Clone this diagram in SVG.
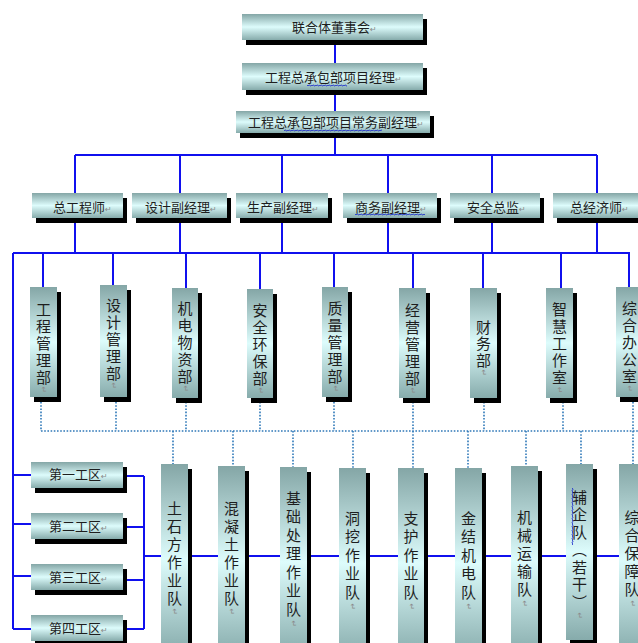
<svg xmlns="http://www.w3.org/2000/svg" width="638" height="643" viewBox="0 0 638 643">
<style>
.bg{fill:#ffffff}
.c{stroke:#1010ee;stroke-width:2;fill:none}
.d{stroke:#2f78b8;stroke-width:1.6;stroke-dasharray:1.6 1.6;fill:none}
.s{fill:#000000}
.b{fill:url(#g)}
.t{font-family:"Noto Sans CJK SC","Noto Sans",sans-serif;font-size:13px;fill:#1e1e1e}
.v{font-family:"Noto Sans CJK SC","Noto Sans",sans-serif;font-size:15px;fill:#1e1e1e;writing-mode:vertical-rl}
.r{font-family:"DejaVu Sans",sans-serif;font-size:8px;fill:#8a8a8a}
.w{fill:url(#wv)}
</style>
<defs>
<linearGradient id="g" x1="0" y1="0" x2="0" y2="1">
<stop offset="0" stop-color="#84a6a6"/>
<stop offset="0.5" stop-color="#ddfcfc"/>
<stop offset="1" stop-color="#86abab"/>
</linearGradient>
<pattern id="wv" patternUnits="userSpaceOnUse" width="4" height="3">
<path d="M0 2 Q1 0 2 1.5 T4 1" stroke="#2233cc" stroke-width="0.9" fill="none"/>
</pattern>
</defs>
<rect class="bg" x="0" y="0" width="638" height="643"/>

<g id="connectors">
<path class="c" d="M335 40V155M75 155H597M75 155V253M180 155V253M282 155V253M388 155V253M492 155V253M597 155V253"/>
<path class="c" d="M13 253H630M13 253V629M43 253V287M113 253V285M186 253V288M260 253V289M334 253V287M413 253V288M483 253V288M561 253V288M629 253V287"/>
<path class="c" d="M13 475H31M13 524H31M13 576H31M13 629H31"/>
<path class="c" d="M127 476H144M127 527H144M127 580H144M127 629H144M144 476V629M144 556H619"/>
<path class="d" d="M41 402V431M116 402V431M186 402V431M260 402V431M334 402V431M413 402V431M484 402V431M563 402V431M633 402V431M41 431H638"/>
<path class="d" d="M173 431V464M233 431V466M293 431V467M353 431V468M413 431V468M468 431V468M526 431V466M581 431V464M633 431V464"/>
</g>

<g id="n-board"><rect class="s" x="246" y="19" width="181" height="26"/><rect class="b" x="242" y="14" width="181" height="26"/><text class="t" x="292" y="32">联合体董事会<tspan class="r">↵</tspan></text></g>
<g id="n-pm"><rect class="s" x="246" y="68" width="181" height="27"/><rect class="b" x="242" y="63" width="181" height="27"/><text class="t" x="265" y="82">工程总承包部项目经理<tspan class="r">↵</tspan></text><rect class="w" x="307" y="84" width="40" height="3"/></g>
<g id="n-epm"><rect class="s" x="240" y="116" width="194" height="22"/><rect class="b" x="236" y="111" width="194" height="22"/><text class="t" x="248" y="127">工程总承包部项目常务副经理<tspan class="r">↵</tspan></text><rect class="w" x="284" y="129" width="98" height="3"/></g>

<g id="n-ce"><rect class="s" x="36" y="198" width="91" height="25"/><rect class="b" x="32" y="193" width="91" height="25"/><text class="t" x="53" y="212">总工程师<tspan class="r">↵</tspan></text></g>
<g id="n-dm"><rect class="s" x="136" y="198" width="95" height="25"/><rect class="b" x="132" y="193" width="95" height="25"/><text class="t" x="145" y="212">设计副经理<tspan class="r">↵</tspan></text></g>
<g id="n-pdm"><rect class="s" x="240" y="198" width="92" height="25"/><rect class="b" x="236" y="193" width="92" height="25"/><text class="t" x="247" y="212">生产副经理<tspan class="r">↵</tspan></text></g>
<g id="n-bm"><rect class="s" x="347" y="198" width="94" height="25"/><rect class="b" x="343" y="193" width="94" height="25"/><text class="t" x="355" y="212">商务副经理<tspan class="r">↵</tspan></text><rect class="w" x="355" y="213" width="70" height="3"/></g>
<g id="n-sd"><rect class="s" x="454" y="198" width="90" height="25"/><rect class="b" x="450" y="193" width="90" height="25"/><text class="t" x="467" y="212">安全总监<tspan class="r">↵</tspan></text></g>
<g id="n-cec"><rect class="s" x="557" y="198" width="90" height="25"/><rect class="b" x="553" y="193" width="90" height="25"/><text class="t" x="570" y="212">总经济师<tspan class="r">↵</tspan></text></g>

<g id="d-eng"><rect class="s" x="34" y="292" width="27" height="110"/><rect class="b" x="30" y="287" width="27" height="110"/><text class="v" x="43.5" y="301.5" letter-spacing="2">工程管理部<tspan class="r">↵</tspan></text></g>
<g id="d-des"><rect class="s" x="104" y="290" width="27" height="112"/><rect class="b" x="100" y="285" width="27" height="112"/><text class="v" x="113.5" y="297.5" letter-spacing="2">设计管理部<tspan class="r">↵</tspan></text></g>
<g id="d-mep"><rect class="s" x="176" y="293" width="26" height="110"/><rect class="b" x="172" y="288" width="26" height="110"/><text class="v" x="185" y="300.5" letter-spacing="2">机电物资部<tspan class="r">↵</tspan></text></g>
<g id="d-saf"><rect class="s" x="251" y="294" width="26" height="109"/><rect class="b" x="247" y="289" width="26" height="109"/><text class="v" x="260" y="302.5" letter-spacing="2">安全环保部<tspan class="r">↵</tspan></text></g>
<g id="d-qua"><rect class="s" x="326" y="292" width="26" height="110"/><rect class="b" x="322" y="287" width="26" height="110"/><text class="v" x="335" y="300.5" letter-spacing="2">质量管理部<tspan class="r">↵</tspan></text></g>
<g id="d-op"><rect class="s" x="403" y="293" width="27" height="110"/><rect class="b" x="399" y="288" width="27" height="110"/><text class="v" x="412.5" y="302.5" letter-spacing="2">经营管理部<tspan class="r">↵</tspan></text></g>
<g id="d-fin"><rect class="s" x="474" y="293" width="27" height="110"/><rect class="b" x="470" y="288" width="27" height="110"/><text class="v" x="483.5" y="319.5" letter-spacing="1.5">财务部<tspan class="r">↵</tspan></text></g>
<g id="d-smart"><rect class="s" x="550" y="293" width="27" height="110"/><rect class="b" x="546" y="288" width="27" height="110"/><text class="v" x="559.5" y="302" letter-spacing="2">智慧工作室<tspan class="r">↵</tspan></text></g>
<g id="d-off"><rect class="s" x="620" y="292" width="27" height="110"/><rect class="b" x="616" y="287" width="27" height="110"/><text class="v" x="629.5" y="300.5" letter-spacing="2">综合办公室<tspan class="r">↵</tspan></text></g>

<g id="z1"><rect class="s" x="35" y="467" width="92" height="26"/><rect class="b" x="31" y="462" width="92" height="26"/><text class="t" x="49" y="479">第一工区<tspan class="r">↵</tspan></text></g>
<g id="z2"><rect class="s" x="35" y="518" width="92" height="26"/><rect class="b" x="31" y="513" width="92" height="26"/><text class="t" x="49" y="531">第二工区<tspan class="r">↵</tspan></text></g>
<g id="z3"><rect class="s" x="35" y="569" width="92" height="26"/><rect class="b" x="31" y="564" width="92" height="26"/><text class="t" x="49" y="582">第三工区<tspan class="r">↵</tspan></text></g>
<g id="z4"><rect class="s" x="35" y="620" width="92" height="26"/><rect class="b" x="31" y="615" width="92" height="26"/><text class="t" x="49" y="633">第四工区<tspan class="r">↵</tspan></text></g>

<g id="t1"><rect class="s" x="165" y="469" width="27" height="190"/><rect class="b" x="161" y="464" width="27" height="190"/><text class="v" x="174.5" y="500.5" letter-spacing="3">土石方作业队<tspan class="r">↵</tspan></text></g>
<g id="t2"><rect class="s" x="222" y="471" width="27" height="190"/><rect class="b" x="218" y="466" width="27" height="190"/><text class="v" x="231.5" y="500.5" letter-spacing="3">混凝土作业队<tspan class="r">↵</tspan></text></g>
<g id="t3"><rect class="s" x="284" y="472" width="27" height="190"/><rect class="b" x="280" y="467" width="27" height="190"/><text class="v" x="293.5" y="490.5" letter-spacing="3.5">基础处理作业队<tspan class="r">↵</tspan></text></g>
<g id="t4"><rect class="s" x="343" y="473" width="27" height="190"/><rect class="b" x="339" y="468" width="27" height="190"/><text class="v" x="352.5" y="510.5" letter-spacing="3.5">洞挖作业队<tspan class="r">↵</tspan></text></g>
<g id="t5"><rect class="s" x="402" y="473" width="26" height="190"/><rect class="b" x="398" y="468" width="26" height="190"/><text class="v" x="411" y="510.5" letter-spacing="3.5">支护作业队<tspan class="r">↵</tspan></text></g>
<g id="t6"><rect class="s" x="459" y="473" width="27" height="190"/><rect class="b" x="455" y="468" width="27" height="190"/><text class="v" x="468.5" y="510.5" letter-spacing="3.5">金结机电队<tspan class="r">↵</tspan></text></g>
<g id="t7"><rect class="s" x="515" y="471" width="27" height="190"/><rect class="b" x="511" y="466" width="27" height="190"/><text class="v" x="524.5" y="509.5" letter-spacing="3.2">机械运输队<tspan class="r">↵</tspan></text></g>
<g id="t8"><rect class="s" x="570" y="469" width="27" height="176"/><rect class="b" x="566" y="464" width="27" height="176"/><text class="v" x="579.5" y="489.5" letter-spacing="2.5">辅企队（若干）<tspan class="r">↵</tspan></text><rect class="w" x="0" y="0" width="57" height="3" transform="translate(574 488) rotate(90)"/></g>
<g id="t9"><rect class="s" x="623" y="469" width="27" height="190"/><rect class="b" x="619" y="464" width="27" height="190"/><text class="v" x="632" y="509.5" letter-spacing="3.2">综合保障队<tspan class="r">↵</tspan></text></g>
</svg>
